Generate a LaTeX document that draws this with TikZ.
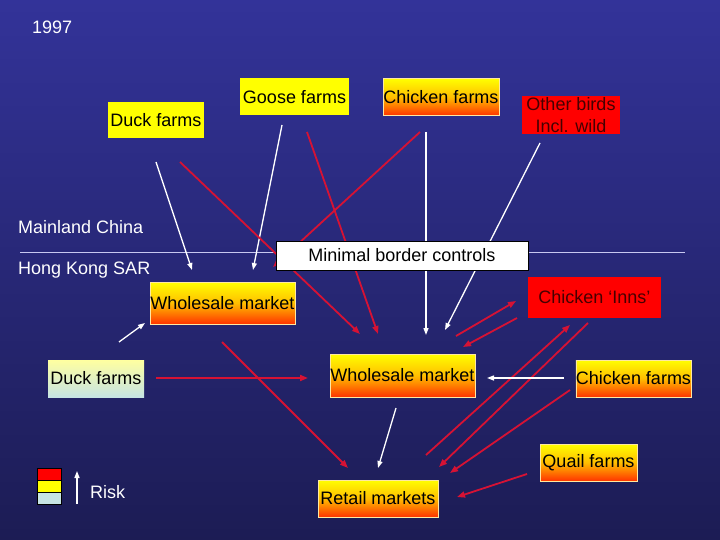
\documentclass[tikz,border=0pt]{standalone}
\usepackage{fontspec}
\setmainfont{Liberation Sans}
\usetikzlibrary{arrows.meta}
\definecolor{bgtop}{RGB}{51,51,153}
\definecolor{bgbot}{RGB}{28,28,84}
\definecolor{lred}{RGB}{214,18,52}
\definecolor{gyel}{RGB}{255,255,0}
\definecolor{gmid}{RGB}{255,190,0}
\definecolor{gbot}{RGB}{255,51,0}
\definecolor{bord}{RGB}{255,232,160}
\definecolor{ltblue}{RGB}{198,228,228}
\definecolor{paleyel}{RGB}{255,255,160}
\definecolor{boxred}{RGB}{255,0,0}
\definecolor{dred}{RGB}{70,0,0}
\definecolor{divline}{RGB}{200,200,240}
\begin{document}
\begin{tikzpicture}[x=1pt,y=-1pt,
  every node/.style={font=\fontsize{18}{22}\selectfont, inner sep=0pt},
  basebox/.style={rectangle, anchor=center},
  plainbox/.style={basebox, fill=gyel, text=black},
  gradbox/.style={basebox, top color=gyel, bottom color=gbot, middle color=gmid, draw=bord, line width=0.8pt, text=black},
  duckbox/.style={basebox, top color=paleyel, bottom color=ltblue, text=black},
  redbox/.style={basebox, fill=boxred, align=center, font=\fontsize{18}{22}\selectfont\color{dred}},
  borderbox/.style={basebox, fill=white, draw=black, line width=0.8pt, text=black},
  legsq/.style={rectangle, draw=black, line width=0.8pt, minimum width=24pt, minimum height=12pt, anchor=center},
  redarr/.style={draw=lred, line width=1.8pt, -{Triangle[length=8pt,width=6pt]}},
  whitearr/.style={draw=white, line width=1.3pt, -{Triangle[length=7pt,width=5pt]}},
  lbl/.style={text=white, anchor=west},
]
\useasboundingbox (0,0) rectangle (720,540);
\fill[top color=bgtop, bottom color=bgbot] (0,0) rectangle (720,540);

% divider line
\coordinate (divL) at (20,252);
\coordinate (divR) at (685,252);
\draw[divline, line width=0.8pt] (divL) -- (divR);

% arrow end points
\coordinate (w1s) at (156,162); \coordinate (w1e) at (192,270);
\coordinate (w2s) at (282,125); \coordinate (w2e) at (253,270);
\coordinate (r3s) at (180,162); \coordinate (r3e) at (360,334);
\coordinate (r4s) at (307,132); \coordinate (r4e) at (378,334);
\coordinate (r5s) at (420,132); \coordinate (r5e) at (273,267);
\coordinate (w6s) at (426,132); \coordinate (w6e) at (426,335);
\coordinate (w7s) at (540,143); \coordinate (w7e) at (445,330);
\coordinate (r8as) at (456,336); \coordinate (r8ae) at (516,301);
\coordinate (r8bs) at (517,318); \coordinate (r8be) at (463,347);
\coordinate (r9as) at (426,455); \coordinate (r9ae) at (570,325);
\coordinate (r9bs) at (588,323); \coordinate (r9be) at (439,467);
\coordinate (r10s) at (570,390); \coordinate (r10e) at (450,473);
\coordinate (r11s) at (527,474); \coordinate (r11e) at (457,497);
\coordinate (w12s) at (564,378); \coordinate (w12e) at (487,378);
\coordinate (w13s) at (396,408); \coordinate (w13e) at (378,468);
\coordinate (r14s) at (156,378); \coordinate (r14e) at (308,378);
\coordinate (r15s) at (222,342); \coordinate (r15e) at (348,468);
\coordinate (w16s) at (119,342); \coordinate (w16e) at (145,323);
\coordinate (risks) at (77,504); \coordinate (riske) at (77,471);

\draw[whitearr] (w1s) -- (w1e);
\draw[whitearr] (w2s) -- (w2e);
\draw[redarr] (r3s) -- (r3e);
\draw[redarr] (r4s) -- (r4e);
\draw[redarr] (r5s) -- (r5e);
\draw[whitearr] (w6s) -- (w6e);
\draw[whitearr] (w7s) -- (w7e);
\draw[redarr] (r8as) -- (r8ae);
\draw[redarr] (r8bs) -- (r8be);
\draw[redarr] (r9as) -- (r9ae);
\draw[redarr] (r9bs) -- (r9be);
\draw[redarr] (r10s) -- (r10e);
\draw[redarr] (r11s) -- (r11e);
\draw[whitearr] (w12s) -- (w12e);
\draw[whitearr] (w13s) -- (w13e);
\draw[redarr] (r14s) -- (r14e);
\draw[redarr] (r15s) -- (r15e);
\draw[whitearr] (w16s) -- (w16e);
\draw[whitearr, line width=1.5pt] (risks) -- (riske);

% labels
\node[lbl] (year) at (32,27) {1997};
\node[lbl] (mainland) at (18,227) {Mainland China};
\node[lbl] (hk) at (18,270) {Hong Kong SAR};
\node[lbl] (risk) at (90,492) {Risk};

% top boxes
\node[plainbox, minimum width=96pt, minimum height=36pt] (ducktop) at (156,120) {Duck farms};
\node[plainbox, minimum width=109pt, minimum height=37pt] (goose) at (294.5,97) {Goose farms};
\node[gradbox, minimum width=116pt, minimum height=37pt] (chicktop) at (441,97) {Chicken farms};
\node[redbox, minimum width=98pt, minimum height=38pt] (other) at (571,115) {Other birds\\Incl. wild};

% border box
\node[borderbox, minimum width=252pt, minimum height=29pt] (border) at (402,255.5) {Minimal border controls};

% Hong Kong boxes
\node[gradbox, minimum width=145pt, minimum height=42pt] (wholeleft) at (222.5,303) {Wholesale market};
\node[redbox, minimum width=133pt, minimum height=41pt] (inns) at (594.5,297.5) {Chicken ‘Inns’};
\node[duckbox, minimum width=96pt, minimum height=37pt] (duckhk) at (96,378.5) {Duck farms};
\node[gradbox, minimum width=145pt, minimum height=43pt] (wholecent) at (402.5,375.5) {Wholesale market};
\node[gradbox, minimum width=115pt, minimum height=37pt] (chickright) at (633.5,378.5) {Chicken farms};
\node[gradbox, minimum width=97pt, minimum height=37pt] (quail) at (588.5,462.5) {Quail farms};
\node[gradbox, minimum width=120pt, minimum height=37pt] (retail) at (378,498.5) {Retail markets};

% legend
\node[legsq, fill=boxred] (legred) at (49,474) {};
\node[legsq, fill=gyel] (legyel) at (49,486) {};
\node[legsq, fill=ltblue] (legblue) at (49,498) {};
\end{tikzpicture}
\end{document}
